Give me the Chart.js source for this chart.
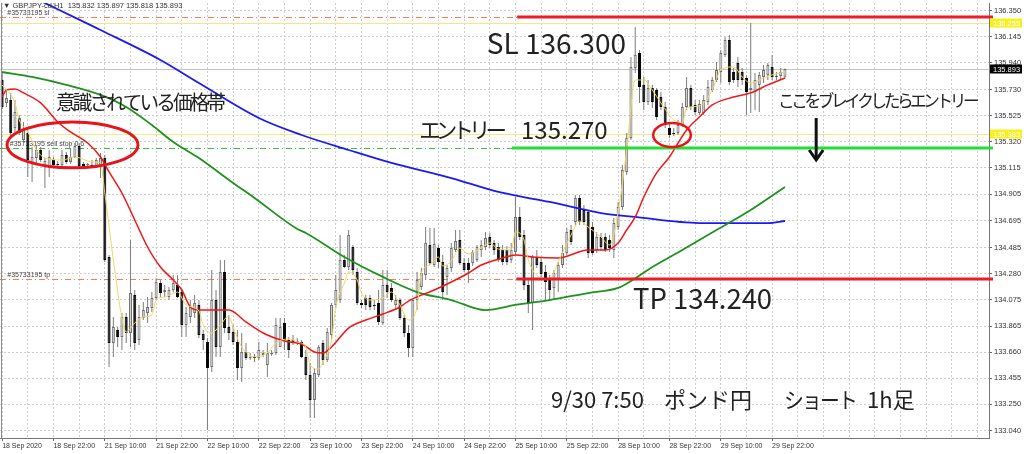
<!DOCTYPE html>
<html>
<head>
<meta charset="utf-8">
<script src="https://cdn.jsdelivr.net/npm/chart.js@4.4.1/dist/chart.umd.min.js"></script>
<style>
  html, body { margin: 0; padding: 0; background: #fff; }
  #wrap { width: 1024px; height: 454px; }
</style>
</head>
<body>
<div id="wrap"><canvas id="gbpjpy" width="1024" height="454"></canvas></div>
<script>
// GBPJPY H1 bars, 18 Sep 2020 10:00 .. 30 Sep 01:00
var opens = [
  135.806,135.625,135.648,135.428,135.506,135.333,135.388,135.152,135.191,135.254,
  135.120,135.120,135.175,135.144,135.136,135.215,135.160,135.199,135.286,135.144,
  135.136,135.136,135.128,135.120,135.191,134.410,133.732,133.835,133.779,133.937,
  133.811,134.111,133.756,133.929,133.969,134.008,134.087,134.205,134.134,134.095,
  134.150,134.189,134.134,133.874,133.937,133.969,134.032,133.803,133.740,133.543,
  134.071,133.701,134.292,133.858,133.819,133.740,133.535,133.661,133.614,133.622,
  133.614,133.638,133.559,133.645,133.653,133.701,133.890,133.756,133.756,133.740,
  133.740,133.622,133.480,133.283,133.480,133.732,133.598,133.795,134.032,134.071,
  134.387,134.331,134.489,134.292,134.047,134.087,134.087,134.032,134.047,133.890,
  134.189,134.166,134.032,134.071,133.929,133.811,133.693,134.071,134.174,134.268,
  134.505,134.347,134.481,134.371,134.253,134.324,134.465,134.544,134.363,134.363,
  134.363,134.387,134.465,134.489,134.568,134.521,134.489,134.465,134.465,134.387,
  134.450,134.726,134.584,134.189,134.047,134.410,134.371,134.292,134.229,134.166,
  134.229,134.347,134.442,134.623,134.686,134.876,134.781,134.765,134.647,134.465,
  134.568,134.568,134.544,134.465,134.647,134.805,135.081,135.349,135.901,136.019,
  135.767,135.633,135.743,135.727,135.672,135.593,135.428,135.388,135.388,135.451,
  135.593,135.743,135.609,135.546,135.546,135.633,135.727,135.806,135.869,136.003,
  136.122,135.869,135.940,135.869,135.822,135.727,135.711,135.767,135.830,135.846,
  135.909,135.838,135.838,135.832
];
var highs = [
  135.869,135.727,135.704,135.648,135.530,135.475,135.428,135.278,135.294,135.278,
  135.191,135.254,135.199,135.167,135.254,135.238,135.270,135.309,135.309,135.160,
  135.152,135.175,135.191,135.231,135.215,134.426,133.937,133.858,133.969,133.969,
  134.544,134.150,134.032,134.055,134.095,134.134,134.245,134.229,134.189,134.174,
  134.268,134.268,134.158,134.016,134.071,134.111,134.071,133.835,133.772,134.308,
  134.150,134.387,134.387,133.953,133.874,133.835,133.811,133.732,133.653,133.645,
  133.740,133.677,133.732,133.677,133.929,133.929,133.929,133.779,133.795,133.772,
  133.756,133.677,133.574,133.535,133.716,133.756,133.850,134.047,134.268,134.584,
  134.426,134.623,134.505,134.324,134.071,134.111,134.111,134.071,134.150,134.308,
  134.308,134.205,134.111,134.087,133.953,133.874,134.071,134.292,134.324,134.647,
  134.639,134.639,134.505,134.426,134.347,134.521,134.623,134.623,134.402,134.402,
  134.465,134.505,134.544,134.608,134.600,134.544,134.521,134.505,134.497,134.521,
  134.883,134.805,134.623,134.229,134.426,134.465,134.402,134.347,134.268,134.308,
  134.371,134.505,134.639,134.663,134.899,134.899,134.820,134.781,134.686,134.608,
  134.600,134.600,134.584,134.718,134.844,135.136,135.388,135.988,136.224,136.043,
  135.830,135.806,135.767,135.743,135.711,135.633,135.467,135.428,135.491,135.625,
  135.830,135.767,135.648,135.648,135.688,135.806,135.830,135.948,136.043,136.145,
  136.161,135.901,135.988,135.901,135.846,136.256,135.861,135.869,135.924,135.940,
  136.003,135.869,135.901,135.897
];
var lows = [
  135.577,135.593,135.357,135.396,135.372,135.309,135.041,135.002,135.152,135.160,
  134.954,135.041,135.128,135.120,135.120,135.144,135.144,135.191,135.112,135.120,
  135.120,135.120,135.112,135.033,134.371,133.543,133.622,133.701,133.677,133.732,
  133.701,133.677,133.716,133.913,133.890,133.977,134.071,134.095,134.095,134.071,
  134.134,134.087,133.779,133.779,133.890,133.929,133.772,133.677,133.046,133.503,
  133.622,133.622,133.811,133.756,133.716,133.440,133.425,133.598,133.598,133.582,
  133.598,133.622,133.464,133.630,133.638,133.701,133.677,133.614,133.716,133.716,
  133.614,133.440,133.141,133.141,133.464,133.559,133.582,133.756,134.008,134.047,
  134.324,134.308,134.268,134.032,134.008,133.992,133.992,133.992,133.874,133.874,
  134.087,134.055,133.992,133.913,133.779,133.622,133.622,133.992,134.150,134.229,
  134.347,134.331,134.324,134.071,134.111,134.292,134.450,134.347,134.292,134.205,
  134.339,134.371,134.410,134.465,134.481,134.426,134.371,134.347,134.347,134.363,
  134.426,134.544,134.150,133.969,133.835,134.324,134.253,134.071,134.071,134.071,
  134.134,134.324,134.426,134.505,134.663,134.663,134.663,134.402,134.426,134.442,
  134.465,134.450,134.450,134.402,134.623,134.781,135.057,135.333,135.861,135.625,
  135.569,135.609,135.585,135.491,135.569,135.428,135.349,135.364,135.372,135.435,
  135.569,135.569,135.530,135.530,135.530,135.609,135.711,135.790,135.782,135.988,
  135.767,135.782,135.751,135.767,135.530,135.546,135.569,135.554,135.782,135.806,
  135.806,135.806,135.806,135.818
];
var closes = [
  135.593,135.664,135.388,135.554,135.388,135.412,135.175,135.199,135.254,135.175,
  135.167,135.199,135.136,135.136,135.215,135.160,135.199,135.286,135.128,135.128,
  135.137,135.128,135.175,135.191,134.387,133.732,133.858,133.779,133.937,133.811,
  134.126,133.732,133.937,133.992,134.016,134.087,134.213,134.126,134.150,134.150,
  134.205,134.095,133.874,133.969,134.016,134.047,133.795,133.756,133.535,134.071,
  133.701,134.292,133.850,133.811,133.740,133.535,133.661,133.614,133.622,133.614,
  133.677,133.653,133.653,133.653,133.874,133.858,133.756,133.677,133.732,133.742,
  133.622,133.480,133.283,133.496,133.701,133.598,133.819,134.032,134.150,134.387,
  134.331,134.584,134.308,134.047,134.032,134.032,134.016,134.024,133.898,134.189,
  134.134,134.071,134.071,133.929,133.811,133.693,134.071,134.229,134.284,134.521,
  134.363,134.513,134.371,134.134,134.324,134.481,134.537,134.363,134.308,134.308,
  134.450,134.489,134.505,134.560,134.505,134.465,134.387,134.371,134.371,134.465,
  134.726,134.568,134.189,134.047,134.410,134.347,134.276,134.213,134.150,134.284,
  134.347,134.442,134.608,134.529,134.876,134.686,134.686,134.442,134.442,134.568,
  134.489,134.465,134.481,134.678,134.805,135.096,135.349,135.909,136.003,135.751,
  135.633,135.743,135.633,135.514,135.593,135.451,135.372,135.380,135.451,135.593,
  135.743,135.593,135.554,135.617,135.648,135.751,135.806,135.885,136.019,136.122,
  135.790,135.806,135.806,135.806,135.711,135.743,135.806,135.846,135.885,135.924,
  135.830,135.832,135.869,135.893
];

// moving averages (bar index / price)
var maFastIdx = [0,3,4,6,8,10,14,17,21,23,24,26,28,29,31,33,35,36,38,41,43,46,47,49,51,53,54,56,59,62,64,67,69,71,72,74,75,77,78,80,81,83,84,86,89,91,93,95,97,98,100,102,103,105,107,109,112,114,116,119,120,122,123,126,128,130,133,135,137,140,142,144,146,148,150,152,154,157,159,160,163,166,168,171,173,175,178,180,183];
var maFastVal = [135.767,135.625,135.491,135.396,135.254,135.191,135.175,135.199,135.160,135.152,134.915,134.387,133.929,133.819,133.890,133.937,133.953,134.071,134.095,134.134,134.032,133.985,133.874,133.811,133.874,133.945,133.858,133.701,133.622,133.653,133.732,133.764,133.740,133.701,133.559,133.527,133.582,133.756,134.016,134.205,134.292,134.229,134.126,134.071,134.087,134.134,134.032,133.913,134.016,134.284,134.347,134.410,134.339,134.379,134.481,134.434,134.481,134.521,134.473,134.465,134.608,134.544,134.387,134.245,134.237,134.371,134.584,134.694,134.647,134.568,134.505,134.765,135.254,135.806,135.806,135.727,135.625,135.491,135.467,135.585,135.601,135.727,135.885,135.909,135.830,135.782,135.822,135.846,135.869];
var maMidIdx = [0,1,3,5,9,13,16,20,23,25,28,31,34,37,40,42,44,46,53,57,61,66,70,73,75,77,81,85,89,93,95,101,105,109,112,117,120,124,130,137,141,144,146,148,150,153,156,160,163,166,171,175,179,183];
var maMidVal = [135.672,135.727,135.735,135.704,135.625,135.475,135.396,135.309,135.199,135.081,134.915,134.702,134.489,134.331,134.229,134.150,134.016,133.992,133.992,133.898,133.811,133.748,133.724,133.661,133.653,133.701,133.850,133.913,133.961,134.016,134.063,134.150,134.213,134.284,134.347,134.402,134.426,134.410,134.402,134.465,134.465,134.521,134.623,134.726,134.883,135.073,135.199,135.412,135.514,135.609,135.672,135.704,135.767,135.822];
var maSlowIdx = [0,7,15,23,29,35,40,46,54,59,69,71,80,89,97,105,113,120,128,137,144,147,152,159,167,175,183];
var maSlowVal = [135.869,135.830,135.767,135.688,135.593,135.451,135.317,135.191,134.994,134.876,134.631,134.600,134.410,134.253,134.134,134.071,133.992,134.032,134.071,134.126,134.166,134.221,134.331,134.466,134.623,134.781,134.962];
var maLongIdx = [4,10,23,37,46,60,70,81,91,105,116,128,140,148,163,179,183];
var maLongVal = [136.516,136.413,136.200,135.964,135.782,135.506,135.372,135.254,135.152,135.033,134.923,134.844,134.757,134.726,134.678,134.678,134.694];

// axis labels
var dateLabels = ['18 Sep 2020','18 Sep 22:00','21 Sep 10:00','21 Sep 22:00','22 Sep 10:00','22 Sep 22:00',
  '23 Sep 10:00','23 Sep 22:00','24 Sep 10:00','24 Sep 22:00','25 Sep 10:00','25 Sep 22:00',
  '28 Sep 10:00','28 Sep 22:00','29 Sep 10:00','29 Sep 22:00'];
var priceTicks = [136.350,136.145,135.940,135.730,135.525,135.320,135.115,134.905,134.695,
  134.485,134.280,134.075,133.865,133.660,133.455,133.250,133.040];

// order levels
var levelSL = 136.300, levelEntry = 135.270, levelTP = 134.240;
var alertHi = 136.255, alertLo = 135.383;
var lastPrice = closes[closes.length - 1];

var FONT_UI = '"Liberation Sans", Arial, sans-serif';
var FONT_JP = '"Noto Sans CJK JP", "Noto Sans", sans-serif';

function pairs(idx, vals) {
  return idx.map(function(i, k) { return {x: i, y: vals[k]}; });
}
function isUp(i) { return closes[i] >= opens[i]; }

var gridIdx = [];
for (var g = 0; g <= 228; g += 6) gridIdx.push(g);

function hline(ctx, x1, x2, y, color, w, dash) {
  ctx.save();
  ctx.strokeStyle = color; ctx.lineWidth = w; ctx.setLineDash(dash || []);
  ctx.beginPath(); ctx.moveTo(x1, y); ctx.lineTo(x2, y); ctx.stroke();
  ctx.restore();
}

function jpText(ctx, n, px, py) {
  ctx.save();
  ctx.font = n.size + 'px ' + FONT_JP;
  ctx.fillStyle = '#222';
  ctx.textBaseline = 'middle';
  if ('letterSpacing' in ctx) ctx.letterSpacing = (n.sp || 0) + 'px';
  ctx.fillText(n.text, px, py, n.w);
  ctx.restore();
}

// hand-drawn marks on the screenshot, anchored in bar index / price
var notes = [
  {text: 'SL 136.300', i: 113.3, p: 136.098, size: 28, w: 142},
  {text: 'エントリー', i: 97.5, p: 135.412, size: 22, w: 83, sp: -5},
  {text: '135.270', i: 121.3, p: 135.412, size: 24, w: 87},
  {text: '意識されている価格帯', i: 12.6, p: 135.633, size: 20, w: 167, sp: -3},
  {text: 'ここをブレイクしたらエントリー', i: 181.4, p: 135.641, size: 17, w: 198, sp: -3.5},
  {text: 'TP 134.240', i: 147.5, p: 134.087, size: 28, w: 139},
  {text: '9/30 7:50', i: 128.3, p: 133.283, size: 22, w: 100},
  {text: 'ポンド円', i: 154.7, p: 133.283, size: 22, w: 94},
  {text: 'ショート', i: 182.8, p: 133.283, size: 22, w: 72, sp: -2},
  {text: '1h足', i: 202.2, p: 133.283, size: 22, w: 49}
];
var drawnLines = [
  {p: levelSL, from: 120.4, color: '#ee1c24'},
  {p: levelEntry, from: 119.2, color: '#22dd33'},
  {p: levelTP, from: 120.2, color: '#ee1c24'}
];
var rings = [
  {i: 16.45, p: 135.294, ri: 15.3, rp: 0.181, w: 3},
  {i: 156.6, p: 135.372, ri: 4.4, rp: 0.095, w: 2.5}
];
var arrow = {i: 190.3, top: 135.506, bottom: 135.175};

var marks = {
  id: 'marks',
  beforeDatasetsDraw: function(chart) {
    var ctx = chart.ctx, a = chart.chartArea, ys = chart.scales.y, xs = chart.scales.x;
    function py(v) { return Math.round(ys.getPixelForValue(v)) + 0.5; }
    ctx.save();
    ctx.beginPath(); ctx.rect(a.left, a.top, a.right - a.left, a.bottom - a.top); ctx.clip();
    hline(ctx, a.left, a.right, py(lastPrice), '#c4c4c4', 1);
    hline(ctx, a.left, a.right, py(alertHi), '#f3ea7a', 1);
    hline(ctx, a.left, a.right, py(alertLo), '#f3ea7a', 1);
    hline(ctx, a.left, a.right, py(levelSL), '#ff7a50', 1, [6, 3, 1, 3]);
    hline(ctx, a.left, a.right, py(levelEntry), '#3cc03c', 1, [6, 3, 1, 3]);
    hline(ctx, a.left, a.right, py(levelTP), '#ff7a50', 1, [6, 3, 1, 3]);
    ctx.font = '7px ' + FONT_UI;
    ctx.fillStyle = '#444';
    ctx.textBaseline = 'bottom';
    ctx.fillText('#35733195 sl', xs.getPixelForValue(1.2), py(levelSL) - 1);
    ctx.fillText('#35733195 sell stop 0.6', xs.getPixelForValue(1.8), py(levelEntry) - 1);
    ctx.fillText('#35733195 tp', xs.getPixelForValue(1.2), py(levelTP) - 1);
    ctx.restore();
  },
  afterDatasetsDraw: function(chart) {
    var ctx = chart.ctx, a = chart.chartArea, xs = chart.scales.x, ys = chart.scales.y;
    ctx.save();
    drawnLines.forEach(function(l) {
      hline(ctx, xs.getPixelForValue(l.from), a.right + 4, Math.round(ys.getPixelForValue(l.p)), l.color, 3);
    });
    rings.forEach(function(r) {
      var cx = xs.getPixelForValue(r.i), cy = ys.getPixelForValue(r.p);
      var rx = xs.getPixelForValue(r.i + r.ri) - cx, ry = cy - ys.getPixelForValue(r.p + r.rp);
      ctx.strokeStyle = '#e8141c'; ctx.lineWidth = r.w;
      ctx.beginPath(); ctx.ellipse(cx, cy, rx, ry, 0, 0, Math.PI * 2); ctx.stroke();
    });
    var ax = xs.getPixelForValue(arrow.i), ay1 = ys.getPixelForValue(arrow.top), ay2 = ys.getPixelForValue(arrow.bottom);
    ctx.strokeStyle = '#111'; ctx.lineWidth = 3;
    ctx.beginPath(); ctx.moveTo(ax, ay1); ctx.lineTo(ax, ay2 - 2); ctx.stroke();
    ctx.beginPath(); ctx.moveTo(ax - 7, ay2 - 10); ctx.lineTo(ax, ay2); ctx.lineTo(ax + 7, ay2 - 10); ctx.stroke();
    notes.forEach(function(n) {
      jpText(ctx, n, xs.getPixelForValue(n.i), ys.getPixelForValue(n.p));
    });
    ctx.restore();
  },
  afterDraw: function(chart) {
    var ctx = chart.ctx, a = chart.chartArea, ys = chart.scales.y;
    ctx.save();
    // frame on the left
    ctx.strokeStyle = '#8a8a8a'; ctx.lineWidth = 1;
    ctx.beginPath(); ctx.moveTo(a.left + 1.5, a.top); ctx.lineTo(a.left + 1.5, a.bottom); ctx.stroke();
    // price tags on the axis
    ctx.font = '7.5px ' + FONT_UI;
    ctx.textBaseline = 'middle';
    [[alertHi, '#f6f01c', '#ffffff'], [alertLo, '#f6f01c', '#ffffff'], [lastPrice, '#000000', '#ffffff']].forEach(function(t) {
      var y = Math.round(ys.getPixelForValue(t[0]));
      ctx.fillStyle = t[1];
      ctx.fillRect(a.right + 1, y - 4.5, 32, 9);
      ctx.fillStyle = t[2];
      ctx.fillText(t[0].toFixed(3), a.right + 4, y + 0.5);
    });
    // header line
    var n = closes.length - 1;
    ctx.fillStyle = '#333';
    ctx.font = '7.5px ' + FONT_UI;
    ctx.fillText('\u25BC GBPJPY-cd,H1  ' + opens[n].toFixed(3) + ' ' + highs[n].toFixed(3) + ' ' +
      lows[n].toFixed(3) + ' ' + closes[n].toFixed(3), 3, 6);
    ctx.restore();
  }
};

var wickData = opens.map(function(o, i) { return {x: i, y: [lows[i], highs[i]]}; });
var bodyData = opens.map(function(o, i) { return {x: i, y: [opens[i], closes[i]]}; });

new Chart('gbpjpy', {
  type: 'bar',
  data: {
    datasets: [
      {type: 'line', label: 'MA fast', data: pairs(maFastIdx, maFastVal), borderColor: '#efd863',
        borderWidth: 1, pointRadius: 0, cubicInterpolationMode: 'monotone', order: 0},
      {type: 'line', label: 'MA 20', data: pairs(maMidIdx, maMidVal), borderColor: '#f01616',
        borderWidth: 1.5, pointRadius: 0, cubicInterpolationMode: 'monotone', order: 1},
      {type: 'line', label: 'MA 100', data: pairs(maSlowIdx, maSlowVal), borderColor: '#1e911e',
        borderWidth: 1.8, pointRadius: 0, cubicInterpolationMode: 'monotone', order: 2},
      {type: 'line', label: 'MA 200', data: pairs(maLongIdx, maLongVal), borderColor: '#1a1af2',
        borderWidth: 1.8, pointRadius: 0, cubicInterpolationMode: 'monotone', order: 3},
      {label: 'body', data: bodyData, grouped: false, maxBarThickness: 3, minBarLength: 1,
        borderSkipped: false, borderWidth: 1, order: 4,
        backgroundColor: function(c) { return isUp(c.dataIndex) ? '#d6d6d6' : '#000000'; },
        borderColor: function(c) { return isUp(c.dataIndex) ? '#6e6e6e' : '#000000'; }},
      {label: 'wick', data: wickData, grouped: false, maxBarThickness: 1, order: 5,
        backgroundColor: '#7c7c7c', borderWidth: 0}
    ]
  },
  options: {
    responsive: false,
    animation: false,
    events: [],
    layout: {padding: {left: 0, top: 3, right: 0, bottom: 0}},
    plugins: {legend: {display: false}, tooltip: {enabled: false}},
    scales: {
      x: {
        type: 'linear', min: -0.5, max: 230.7, offset: false,
        afterBuildTicks: function(s) { s.ticks = gridIdx.map(function(v) { return {value: v}; }); },
        afterFit: function(s) { s.height = 16; s.paddingLeft = 0; s.paddingRight = 0; },
        ticks: {
          autoSkip: false, maxRotation: 0, minRotation: 0, align: 'start', padding: 1,
          color: '#333', font: {family: FONT_UI, size: 7},
          callback: function(v) { return (v % 12 === 0 && v / 12 < dateLabels.length) ? dateLabels[v / 12] : ''; }
        },
        grid: {
          offset: false, color: '#cdcdcd', tickLength: 3,
          tickColor: function(c) { return (c.tick && c.tick.value % 12 === 0 && c.tick.value <= 180) ? '#666' : 'rgba(0,0,0,0)'; }
        },
        border: {display: true, color: '#777', dash: [2, 2]}
      },
      y: {
        position: 'right', min: 132.983, max: 136.413,
        afterBuildTicks: function(s) { s.ticks = priceTicks.map(function(v) { return {value: v}; }); },
        afterFit: function(s) { s.width = 35; s.paddingTop = 0; s.paddingBottom = 0; },
        ticks: {
          autoSkip: false, padding: 2, color: '#333', font: {family: FONT_UI, size: 7.5},
          callback: function(v) { return Number(v).toFixed(3); }
        },
        grid: {color: '#cdcdcd', tickColor: '#666', tickLength: 3},
        border: {display: true, color: '#777', dash: [2, 2]}
      }
    }
  },
  plugins: [marks]
});
</script>
</body>
</html>
